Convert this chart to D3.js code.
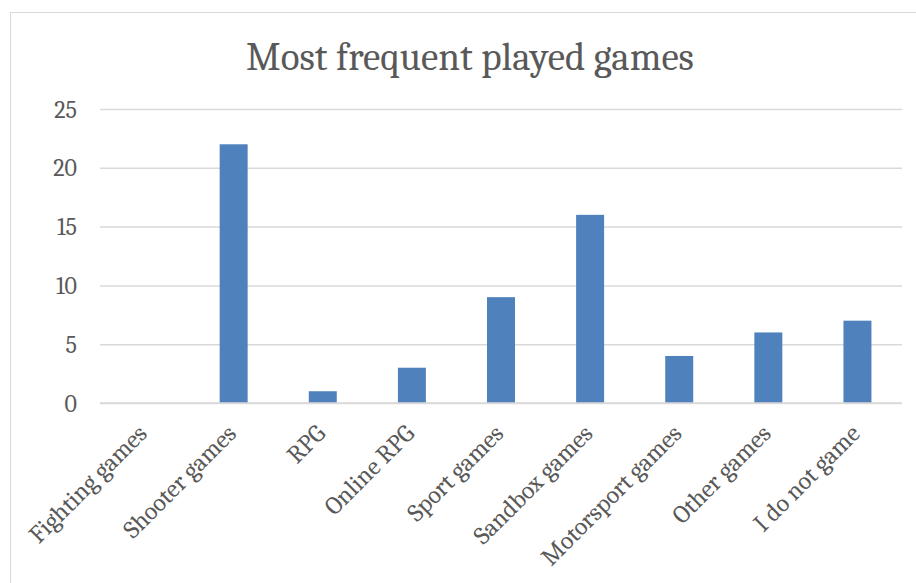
<!DOCTYPE html>
<html>
<head>
<meta charset="utf-8">
<script src="https://cdn.jsdelivr.net/npm/d3@7"></script>
<style>
  html, body { margin: 0; padding: 0; background: #fff; }
  svg { display: block; }
</style>
</head>
<body>
<svg id="chart" width="916" height="583"></svg>
<script>
const categories = ["Fighting games", "Shooter games", "RPG", "Online RPG", "Sport games", "Sandbox games", "Motorsport games", "Other games", "I do not game"];
const values = [0, 22, 1, 3, 9, 16, 4, 6, 7];
const yTicks = [0, 5, 10, 15, 20, 25];
const title = "Most frequent played games";

(function () {
const svg = d3.select("#chart");
const font = "Cambria, 'Liberation Serif', 'DejaVu Serif', serif";
const textColor = "#595959";

svg.append("rect")
  .attr("x", 10.5).attr("y", 12.5)
  .attr("width", 920).attr("height", 600)
  .attr("fill", "#fff").attr("stroke", "#D9D9D9").attr("stroke-width", 1);

const pL = 100, pR = 902, pT = 109, pB = 403;

const x = d3.scaleBand().domain(categories).range([pL, pR]).paddingInner(0.686).paddingOuter(0.343);
const y = d3.scaleLinear().domain([0, 25]).range([pB, pT]);

const yAxis = d3.axisLeft(y).tickValues(yTicks).tickSize(-(pR - pL)).tickPadding(23);
const gy = svg.append("g").attr("transform", `translate(${pL},0)`).call(yAxis);
gy.select(".domain").remove();
gy.selectAll(".tick line").attr("stroke", "#D9D9D9").attr("stroke-width", 1.5);
gy.selectAll(".tick text").attr("fill", textColor).style("font-family", font).style("font-size", "24px")
  .attr("dy", "0.34em");

svg.append("g").selectAll("rect").data(values).join("rect")
  .attr("x", (d, i) => x(categories[i]))
  .attr("y", d => y(d))
  .attr("width", x.bandwidth())
  .attr("height", d => y(0) - y(d))
  .attr("fill", "#4F81BD");

svg.append("line").attr("x1", pL).attr("x2", pR).attr("y1", y(0)).attr("y2", y(0))
  .attr("stroke", "#D9D9D9").attr("stroke-width", 1.5);

const xAxis = d3.axisBottom(x).tickSize(0).tickPadding(0);
const gx = svg.append("g").attr("transform", `translate(0,${pB})`).call(xAxis);
gx.select(".domain").remove();
gx.selectAll(".tick text")
  .attr("fill", textColor).style("font-family", font).style("font-size", "25px")
  .attr("text-anchor", "end")
  .attr("y", 0)
  .attr("dy", null)
  .attr("transform", "translate(4,32) rotate(-45)");

svg.append("text").attr("x", 470).attr("y", 70)
  .attr("text-anchor", "middle")
  .attr("fill", textColor)
  .style("font-family", font).style("font-size", "39px")
  .text(title);
})();
</script>
</body>
</html>
